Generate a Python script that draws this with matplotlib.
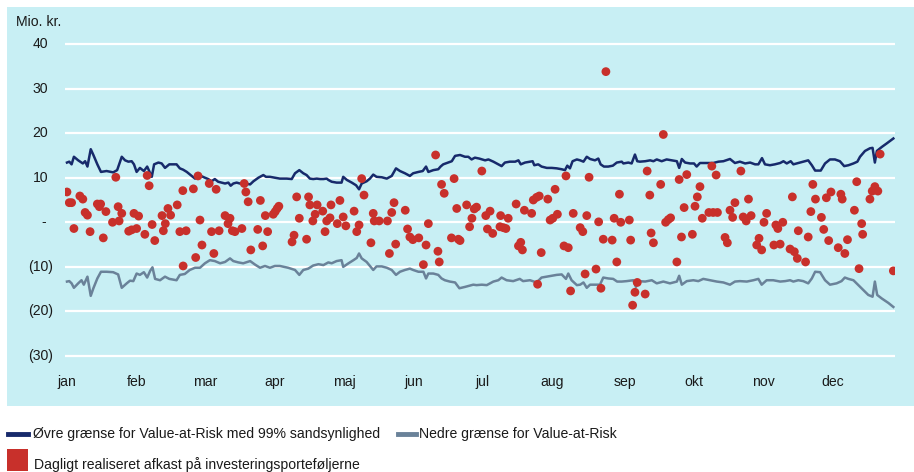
import matplotlib
matplotlib.use("Agg")
import matplotlib.pyplot as plt
from matplotlib import font_manager
from matplotlib.patches import Rectangle
from matplotlib.lines import Line2D
import matplotlib.transforms as mtransforms

# ---------------- data ----------------
months = ["jan", "feb", "mar", "apr", "maj", "jun", "jul", "aug", "sep", "okt", "nov", "dec"]
month_pos = [0, 21, 42, 63, 84, 105, 126, 147, 169, 190, 211, 232]  # trading-day index
yticks = [40, 30, 20, 10, 0, -10, -20, -30]
ytick_labels = ["40", "30", "20", "10", "-", "(10)", "(20)", "(30)"]

upper_x = [0.0, 0.7, 1.4, 2.1, 3.4, 4.8, 5.5, 6.2, 7.2, 8.0, 9.2, 10.3, 12.0, 14.0, 15.2, 16.6,
           17.6, 18.6, 19.6, 20.3, 21.1, 22.1, 23.3, 24.3, 25.2, 25.7, 26.4, 27.7, 28.7, 29.7,
           31.0, 33.2, 34.2, 35.2, 36.3, 37.8, 38.8, 40.3, 41.8, 42.8, 43.8, 44.8, 45.8, 46.9,
           47.9, 48.9, 49.6, 50.4, 51.4, 52.4, 53.9, 55.5, 56.5, 58.0, 59.5, 60.3, 61.5, 63.0,
           64.5, 66.6, 68.1, 69.1, 70.4, 71.6, 72.6, 73.6, 74.6, 75.7, 76.7, 77.7, 78.7, 79.2,
           80.2, 81.7, 83.2, 83.7, 84.8, 86.3, 87.6, 88.5, 89.3, 90.8, 91.8, 92.8, 93.8, 95.4,
           96.9, 98.4, 99.7, 100.9, 102.4, 103.9, 104.9, 106.5, 107.8, 108.8, 109.5, 111.0,
           112.5, 113.2, 114.0, 115.5, 116.6, 117.6, 119.1, 120.6, 121.6, 122.6, 123.6, 124.9,
           126.7, 127.7, 129.2, 130.7, 131.7, 132.7, 134.2, 135.8, 136.8, 137.5, 138.8, 140.3,
           141.1, 141.6, 142.8, 143.8, 145.4, 146.9, 148.4, 149.9, 150.9, 151.6, 152.4, 153.2,
           154.5, 155.5, 156.5, 157.5, 158.5, 160.0, 161.0, 161.7, 162.7, 164.0, 165.4, 166.6,
           168.1, 168.6, 170.1, 171.1, 172.1, 172.8, 173.6, 175.2, 176.7, 177.7, 178.7, 180.2,
           181.7, 183.2, 184.8, 185.5, 186.3, 187.3, 188.8, 190.0, 190.8, 191.8, 193.8, 195.8,
           197.4, 198.9, 200.9, 202.4, 203.9, 205.5, 207.0, 208.5, 209.5, 210.6, 211.5, 213.0,
           214.5, 216.1, 217.1, 218.1, 219.3, 220.1, 221.6, 223.1, 224.6, 225.7, 226.7, 228.4,
           229.7, 231.2, 232.7, 234.2, 235.5, 236.8, 238.3, 239.5, 240.3, 241.8, 243.3, 244.1,
           244.8, 245.4, 246.9, 248.4, 250.4]
upper_y = [13.4, 13.6, 13.0, 14.7, 13.9, 13.2, 13.7, 12.5, 16.4, 15.1, 13.0, 11.3, 11.5, 11.2, 11.7, 14.7,
           13.9, 13.6, 13.7, 13.0, 11.3, 12.2, 11.5, 12.5, 11.0, 10.2, 13.0, 13.4, 13.2, 12.2,
           13.0, 13.0, 12.1, 11.8, 11.3, 10.4, 9.8, 10.5, 10.0, 9.7, 9.2, 9.7, 9.1, 8.9,
           8.7, 8.9, 8.2, 8.7, 8.9, 8.7, 8.7, 8.5, 9.2, 10.0, 10.6, 10.2, 10.2, 10.0,
           9.8, 9.8, 9.7, 11.0, 11.7, 11.0, 10.6, 9.8, 9.7, 9.8, 9.7, 9.7, 9.8, 9.5,
           9.1, 8.9, 8.9, 10.2, 9.5, 8.9, 8.3, 7.4, 8.7, 9.2, 9.8, 10.7, 10.2, 10.1,
           9.8, 10.4, 12.1, 11.5, 11.0, 10.4, 11.0, 11.3, 11.5, 12.5, 11.3, 11.7,
           11.9, 12.5, 13.0, 13.4, 13.7, 14.9, 15.1, 14.7, 14.7, 14.1, 14.5, 14.3,
           13.9, 14.1, 13.6, 13.0, 12.6, 13.4, 13.6, 13.6, 13.9, 13.0, 13.4, 13.6,
           13.7, 12.8, 13.0, 12.5, 12.2, 12.2, 12.1, 11.9, 11.7, 12.7, 12.1, 13.7,
           14.1, 13.9, 13.6, 14.7, 14.2, 13.9, 14.3, 13.0, 12.5, 12.5, 12.7, 13.4,
           13.6, 13.2, 13.4, 13.2, 15.2, 13.7, 13.6, 13.7, 13.9, 13.7, 14.1, 13.7,
           14.1, 13.9, 13.7, 12.2, 14.2, 13.4, 13.2, 13.2, 12.5, 13.3, 13.3, 13.3,
           13.6, 13.7, 14.2, 13.3, 13.6, 13.2, 13.4, 13.0, 13.0, 14.4, 13.0, 12.8,
           13.0, 13.3, 13.7, 13.2, 13.7, 13.0, 13.3, 13.6, 13.9, 12.8, 11.6, 11.6,
           13.2, 14.1, 14.1, 13.7, 12.6, 12.8, 13.2, 13.6, 14.7, 16.0, 16.6, 16.7,
           13.4, 16.0, 16.9, 17.7, 18.8]

lower_x = [0.0, 0.7, 1.4, 2.1, 3.4, 4.4, 5.1, 6.2, 7.2, 8.0, 9.2, 10.3, 12.0, 14.0, 15.5, 16.6,
           18.1, 19.1, 20.1, 21.1, 22.1, 23.3, 24.3, 25.2, 25.9, 26.7, 28.2, 29.7, 31.0, 33.2,
           34.2, 35.7, 37.2, 38.8, 40.3, 41.8, 43.3, 44.8, 46.4, 47.9, 49.4, 50.4, 51.9, 53.4,
           55.5, 57.0, 58.5, 60.0, 61.5, 63.0, 64.5, 67.0, 69.1, 70.4, 71.6, 73.1, 74.6, 76.2,
           77.7, 79.2, 80.2, 81.7, 83.2, 83.7, 85.3, 86.8, 87.8, 88.5, 89.3, 90.8, 92.8, 93.8,
           95.4, 96.9, 98.4, 99.7, 100.9, 102.4, 103.9, 104.9, 106.5, 108.0, 108.8, 109.5,
           111.0, 112.5, 113.5, 114.5, 116.0, 117.6, 118.9, 120.6, 122.1, 123.1, 124.1, 125.7,
           127.2, 129.2, 130.7, 131.7, 133.2, 135.2, 137.2, 138.2, 140.3, 142.3, 143.8, 145.4,
           146.9, 148.4, 149.9, 151.2, 151.9, 152.9, 154.5, 155.5, 156.5, 157.5, 158.5, 160.0,
           161.5, 162.5, 164.0, 165.5, 166.7, 168.1, 169.6, 171.6, 172.4, 173.1, 175.2, 177.2,
           178.7, 180.7, 182.7, 184.8, 185.5, 186.3, 187.8, 189.8, 191.3, 192.8, 194.8, 196.9,
           198.9, 200.9, 202.4, 203.9, 206.0, 208.0, 209.5, 210.5, 212.0, 214.0, 216.1, 217.6,
           219.1, 220.1, 221.6, 223.1, 224.6, 225.7, 226.7, 228.2, 229.7, 231.2, 233.2, 234.7,
           235.7, 236.8, 238.3, 239.8, 241.3, 242.8, 244.1, 244.8, 245.5, 246.9, 248.9, 250.4]
lower_y = [-13.3, -13.2, -13.7, -14.7, -13.7, -13.0, -14.0, -12.2, -16.5, -14.8, -12.6, -11.1, -11.1, -11.2, -11.7, -14.7,
           -13.7, -13.1, -13.2, -11.5, -11.8, -11.2, -12.4, -10.9, -10.1, -12.7, -13.0, -12.2, -12.7, -13.0,
           -11.8, -11.6, -10.7, -10.2, -10.2, -9.2, -8.5, -8.7, -9.2, -8.9, -8.1, -8.7, -9.0, -9.2,
           -8.7, -9.5, -10.2, -9.8, -10.2, -9.8, -9.8, -10.2, -10.7, -11.8, -10.7, -10.4, -9.7, -9.4,
           -9.6, -9.0, -9.2, -8.7, -8.5, -10.0, -9.2, -8.5, -8.0, -7.0, -8.1, -8.9, -10.7, -9.9,
           -9.9, -10.2, -10.7, -11.8, -11.1, -10.7, -10.4, -10.7, -11.1, -11.1, -12.6, -11.5,
           -11.5, -11.8, -12.6, -13.0, -13.3, -13.5, -14.8, -14.5, -14.2, -14.0, -14.1, -14.0,
           -14.1, -13.3, -13.0, -12.4, -13.0, -13.2, -12.7, -13.2, -13.0, -13.5, -12.4, -12.2,
           -12.0, -11.8, -11.7, -12.7, -11.5, -13.0, -14.1, -14.0, -13.5, -14.7, -14.0, -14.0,
           -14.0, -12.4, -12.6, -12.7, -13.3, -13.3, -13.2, -13.0, -14.5, -13.2, -13.3, -13.0,
           -13.7, -13.3, -13.7, -13.3, -12.0, -14.0, -13.2, -13.0, -13.2, -12.7, -13.0, -13.3,
           -13.5, -14.0, -13.3, -13.2, -13.3, -13.0, -12.7, -14.0, -13.0, -13.0, -13.3, -13.2,
           -13.0, -13.3, -13.0, -13.2, -13.7, -12.6, -11.1, -11.2, -13.0, -14.0, -13.7, -13.2,
           -12.4, -12.7, -13.0, -14.1, -15.2, -16.3, -16.7, -13.3, -16.3, -17.1, -18.1, -19.0]

ret_x = [0.0, 0.7, 1.4, 2.1, 3.9, 4.8, 5.5, 6.2, 7.0, 9.2, 9.8, 10.2, 11.0, 11.8, 13.8, 14.8,
         15.5, 15.8, 16.6, 18.7, 19.6, 20.3, 21.1, 21.7, 23.6, 24.3, 24.9, 25.8, 26.6, 28.8,
         29.2, 29.8, 30.6, 31.4, 33.4, 34.2, 35.1, 35.2, 36.1, 38.3, 39.0, 39.7, 40.3, 40.9,
         43.1, 43.8, 44.5, 45.2, 46.1, 47.9, 48.8, 49.4, 50.1, 50.9, 53.0, 53.7, 54.2, 54.9,
         55.7, 57.8, 58.6, 59.3, 60.1, 60.8, 62.5, 63.1, 63.7, 64.2, 68.2, 68.8, 69.6, 70.4,
         72.6, 73.2, 73.6, 74.5, 75.2, 75.8, 77.5, 78.2, 78.7, 79.7, 80.0, 81.9, 82.7, 83.7,
         84.5, 87.0, 87.8, 88.5, 89.3, 90.0, 92.1, 92.8, 93.1, 94.6, 97.1, 97.7, 98.4, 99.1,
         99.6, 102.5, 103.2, 103.9, 104.8, 106.6, 108.0, 108.8, 109.5, 111.7, 112.4, 112.8,
         113.5, 114.3, 116.5, 117.3, 118.1, 118.6, 119.1, 121.1, 122.0, 122.7, 123.4, 124.1,
         125.7, 126.9, 127.4, 128.2, 129.0, 131.2, 131.4, 132.2, 133.0, 133.7, 136.1, 136.8,
         137.5, 138.0, 138.6, 140.8, 141.3, 142.3, 142.6, 143.1, 143.7, 145.7, 146.4, 147.2,
         147.9, 148.6, 150.6, 151.2, 151.9, 152.6, 153.4, 155.5, 156.3, 157.0, 157.5, 158.2,
         160.3, 161.1, 161.8, 162.5, 163.3, 165.2, 165.8, 166.6, 167.4, 167.8, 170.4, 170.8,
         171.4, 172.1, 172.8, 175.2, 175.8, 176.6, 177.0, 177.7, 179.9, 180.7, 181.4, 182.2,
         182.9, 184.8, 185.5, 186.2, 187.0, 187.8, 189.5, 190.3, 191.0, 191.8, 192.5, 194.5,
         195.4, 195.8, 196.7, 197.1, 199.4, 200.1, 200.9, 201.7, 202.4, 204.2, 204.9, 205.8,
         206.5, 207.3, 209.0, 209.7, 210.5, 211.2, 212.0, 214.2, 214.8, 215.4, 216.1, 216.9,
         219.1, 219.8, 220.4, 221.3, 221.6, 223.8, 224.6, 225.4, 226.0, 226.8, 228.6, 229.3,
         230.1, 230.8, 231.5, 233.7, 234.5, 234.9, 235.7, 236.5, 238.6, 239.3, 240.0, 240.8,
         241.1, 243.3, 244.0, 244.8, 245.7, 246.4, 250.4]
ret_y = [6.8, 4.4, 4.4, -1.4, 5.9, 5.2, 2.2, 1.6, -2.1, 4.1, 3.5, 4.1, -3.5, 2.4, 0.0, 10.1,
         3.5, 0.3, 2.0, -2.0, -1.7, 2.0, -1.4, 1.4, -2.7, 10.5, 8.2, -0.5, -4.1, 1.5,
         -1.9, -0.3, 3.1, 1.6, 3.9, -2.1, 7.1, -9.8, -1.9, 7.5, -7.9, 10.4, 0.5, -5.1,
         8.7, -2.1, -7.0, 7.4, -1.9, 1.5, -0.3, 0.9, -1.9, -2.1, -1.4, 8.7, 6.8, 4.6,
         -6.2, -1.6, 4.9, -5.3, 1.5, -2.1, 1.8, 2.4, 3.1, 3.6, -4.4, -2.9, 5.7, 0.9,
         -3.8, 5.7, 3.9, 0.3, 1.8, 3.9, 2.5, -2.1, 0.3, 1.0, 3.9, -0.3, 4.9, 1.2,
         -0.8, 2.5, -2.1, -0.6, 9.8, 6.1, -4.6, 2.0, 0.3, 0.3, 0.3, -7.0, 2.2, 4.4,
         -4.9, 2.7, -1.5, -3.3, -3.9, -3.5, -9.5, -5.1, -0.3, 15.1, -6.5, -8.9,
         8.5, 6.5, -3.5, 9.8, 3.1, -3.8, -4.1, 3.9, -1.0, 0.9, 3.0, 3.4,
         11.5, 1.5, -1.5, 2.5, -2.5, -1.0, 1.5, -1.2, -1.4, 0.9, 4.1, -5.3,
         -4.5, -6.2, 2.7, 2.0, 5.0, 5.6, -13.9, 5.9, -6.8, 5.2, 0.5, 0.9,
         7.4, 1.8, -5.3, 10.4, -5.7, -15.4, 2.0, -1.2, -2.1, -11.6, 1.5, 10.1,
         -10.5, 0.1, -14.8, -3.8, 33.8, -4.0, 0.9, -8.9, 6.3, 0.0, 0.5, -4.0,
         -18.6, -15.7, -13.5, -16.1, 11.5, 6.1, -2.4, -4.6, 8.5, 19.7, 0.0, 0.6,
         1.0, -8.9, 9.6, -3.3, 3.3, 10.7, -2.7, 3.6, 5.7, 8.0, 0.9, 2.2,
         12.6, 2.2, 10.6, 2.2, -3.4, -4.6, 2.7, 1.1, 4.4, 11.5, 1.2, 0.3,
         5.2, 1.5, -5.1, -3.6, -6.2, 0.0, 2.0, -5.1, -0.6, -1.4, -4.9, 0.0,
         -6.0, 5.7, -6.6, -8.1, -1.9, -8.9, -3.3, 2.4, 8.5, 5.2, 1.1, -1.6,
         5.5, -4.1, 6.8, -5.7, 6.3, 5.2, -7.0, -3.9, 2.7, 9.1, -10.4, -0.3,
         -2.7, 5.2, 7.0, 8.0, 7.0, 15.3, -10.9]

legend_labels = ["Øvre grænse for Value-at-Risk med 99% sandsynlighed",
                 "Nedre grænse for Value-at-Risk",
                 "Dagligt realiseret afkast på investeringsporteføljerne"]
ylabel = "Mio. kr."

# ---------------- style ----------------
names = {f.name for f in font_manager.fontManager.ttflist}
if "Liberation Sans Narrow" in names:
    FONT, FS = "Liberation Sans Narrow", 12.0
else:
    FONT, FS = "Liberation Sans", 10.1
plt.rcParams["font.family"] = [FONT, "DejaVu Sans"]

BG = "#c8eff4"
NAVY = "#172a6b"
GREY = "#6a8299"
RED = "#c8302b"
TXT = "#1a1a1a"

W, H = 914, 472
fig = plt.figure(figsize=(W / 100, H / 100), dpi=100)
fig.patch.set_facecolor("white")

# cyan panel (behind the axes)
fig.patches.append(Rectangle((7 / W, 1 - 406 / H), 1 - 7 / W, (406 - 7) / H,
                             transform=fig.transFigure, facecolor=BG, edgecolor="none", zorder=-5))

ax_left, ax_right = 65 / W, 895 / W
y_top_px, y_bot_px = 44 - 2 * 4.457, 356 + 2 * 4.457
ax = fig.add_axes([ax_left, 1 - y_bot_px / H, ax_right - ax_left, (y_bot_px - y_top_px) / H])
ax.set_zorder(2)
ax.patch.set_visible(False)
ax.set_xlim(-0.6, 250.9)
ax.set_ylim(-32, 42)
for s in ax.spines.values():
    s.set_visible(False)

ax.set_yticks(yticks)
ax.set_yticklabels([])
ax.set_xticks(month_pos)
ax.set_xticklabels(months)
ax.tick_params(axis="both", length=0, labelsize=FS, labelcolor=TXT)
ax.tick_params(axis="x", pad=7)
ax.yaxis.grid(True, color="white", linewidth=1.6)
ax.xaxis.grid(False)
ax.set_axisbelow(True)

# y tick labels: digits aligned, parentheses hanging to the right
blend = mtransforms.blended_transform_factory(fig.transFigure, ax.transData)
for v, lab in zip(yticks, ytick_labels):
    if lab.startswith("("):
        xr = 53
    elif lab == "-":
        xr = 46
    else:
        xr = 48
    ax.text(xr / W, v, lab, transform=blend, ha="right", va="center",
            fontsize=FS, color=TXT, clip_on=False)

ax.plot(upper_x, upper_y, color=NAVY, linewidth=1.8, zorder=3)
ax.plot(lower_x, lower_y, color=GREY, linewidth=1.8, zorder=3)
ax.scatter(ret_x, ret_y, s=40, color=RED, edgecolors="none", zorder=4)

fig.text(16 / W, 1 - 22 / H, ylabel, fontsize=FS, color=TXT, ha="left", va="center")

# legend
y1 = 1 - 434 / H
fig.add_artist(Line2D([8 / W, 28 / W], [y1, y1], transform=fig.transFigure, color=NAVY, linewidth=3.5))
fig.text(33 / W, y1, legend_labels[0], fontsize=FS, color=TXT, ha="left", va="center")
fig.add_artist(Line2D([398 / W, 416 / W], [y1, y1], transform=fig.transFigure, color=GREY, linewidth=3.5))
fig.text(419 / W, y1, legend_labels[1], fontsize=FS, color=TXT, ha="left", va="center")
fig.patches.append(Rectangle((7 / W, 1 - 471 / H), 21 / W, 22 / H, transform=fig.transFigure,
                             facecolor=RED, edgecolor="none"))
fig.text(34 / W, 1 - 465 / H, legend_labels[2], fontsize=FS, color=TXT, ha="left", va="center")

fig.savefig("out.png", dpi=100, facecolor="white")
